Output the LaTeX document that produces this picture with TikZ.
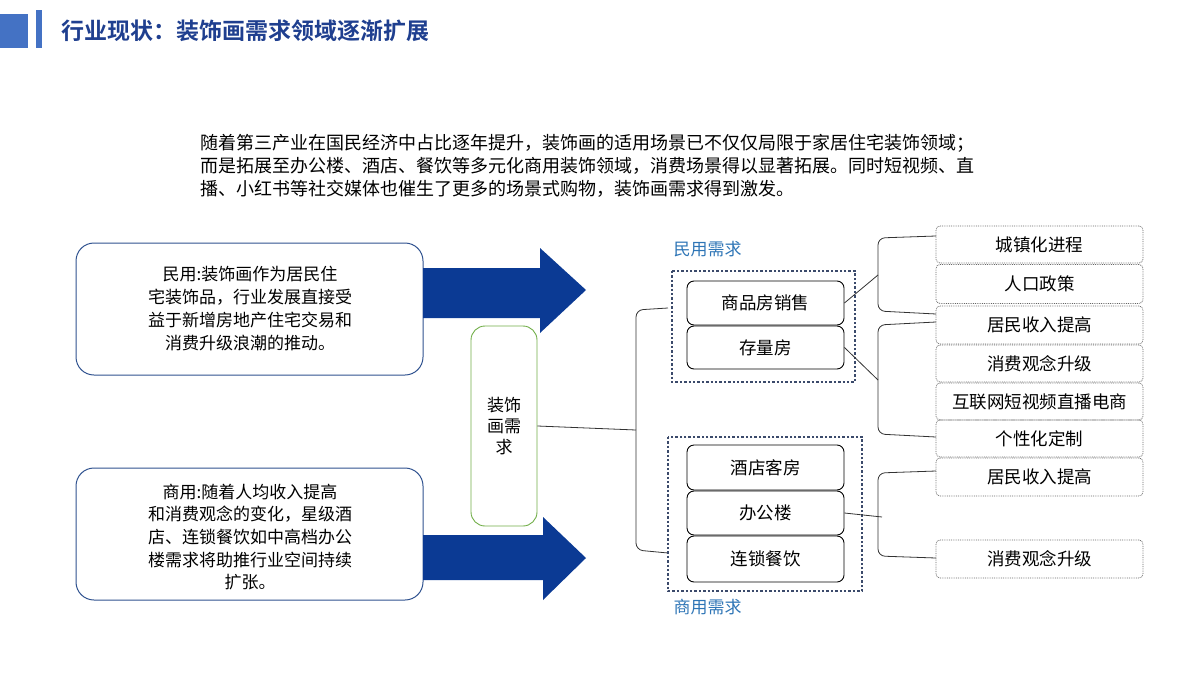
\documentclass[tikz,border=0pt]{standalone}
\usepackage{fontspec}
\setmainfont{Noto Sans CJK SC}[BoldFont={Noto Sans CJK SC Bold}]
\definecolor{hdr}{HTML}{4472C4}
\definecolor{ttl}{HTML}{1F3F8F}
\definecolor{arr}{HTML}{0B3A94}
\definecolor{lbl}{HTML}{2E75B6}
\definecolor{dgb}{HTML}{3B4A6B}
\definecolor{tb}{HTML}{2F528F}
\definecolor{grn}{HTML}{70AD47}
\begin{document}
\begin{tikzpicture}[x=1pt,y=-1pt,
  rbox/.style={draw=black,line width=0.9pt,rounded corners=7pt,minimum width=157pt,inner sep=0pt,font=\fontsize{17.5}{20}\selectfont},
  fbox/.style={draw=black!60,densely dotted,line width=0.8pt,rounded corners=4pt,minimum width=207pt,inner sep=0pt,font=\fontsize{17.5}{20}\selectfont},
  dbox/.style={draw=dgb,dotted,line width=2.4pt},
  tbox/.style={draw=tb,rounded corners=18pt,line width=1pt},
  brk/.style={draw=black!80,line width=0.8pt,rounded corners=7pt},
  lab/.style={text=lbl,font=\fontsize{17}{20}\selectfont},
  barrow/.style={fill=arr}]
\useasboundingbox (0,0) rectangle (1193,677);
\fill[hdr] (0,14) rectangle (28,48);
\fill[hdr] (36,10) rectangle (42,48);
\node[anchor=west,text=ttl,font=\fontsize{23}{26}\selectfont\bfseries] (title) at (58,31) {行业现状：装饰画需求领域逐渐扩展};
\node[anchor=north west,align=left,inner sep=0pt,font=\fontsize{18}{23}\selectfont] (para) at (200,134) {随着第三产业在国民经济中占比逐年提升，装饰画的适用场景已不仅仅局限于家居住宅装饰领域；\\而是拓展至办公楼、酒店、餐饮等多元化商用装饰领域，消费场景得以显著拓展。同时短视频、直\\播、小红书等社交媒体也催生了更多的场景式购物，装饰画需求得到激发。};
% left boxes
\draw[tbox] (76,243) rectangle (423,375);
\node[align=center,font=\fontsize{17}{23}\selectfont] (t1) at (250,309) {民用:装饰画作为居民住\\宅装饰品，行业发展直接受\\益于新增房地产住宅交易和\\消费升级浪潮的推动。};
\draw[tbox] (76,468) rectangle (423,600);
\node[align=center,font=\fontsize{17}{22.7}\selectfont] (t2) at (250,537) {商用:随着人均收入提高\\和消费观念的变化，星级酒\\店、连锁餐饮如中高档办公\\楼需求将助推行业空间持续\\扩张。};
% arrows
\fill[barrow] (423,268) -- (540,268) -- (540,248) -- (586,290) -- (540,333) -- (540,318) -- (423,318) -- cycle;
\fill[barrow] (423,535) -- (543,535) -- (543,517) -- (586,558) -- (543,600) -- (543,580) -- (423,580) -- cycle;
% center
\node[draw=grn,line width=0.9pt,rounded corners=14pt,minimum width=66pt,minimum height=200pt,align=center,font=\fontsize{17}{21}\selectfont] (c) at (504,426) {装饰\\画需\\求};
\coordinate (bl) at (636,430);
\draw[black!80,line width=0.8pt] (c.east) -- (bl);
\draw[brk] (668,308) -- (636,310) -- (636,550) -- (668,553);
% dotted groups
\draw[dbox] (672,271) rectangle (855,382);
\draw[dbox] (668,437) rectangle (862,591);
\node[lab,anchor=west] (l1) at (670,249) {民用需求};
\node[lab,anchor=west] (l2) at (670,607) {商用需求};
\node[rbox,minimum height=44pt] (a1) at (765.5,303) {商品房销售};
\node[rbox,minimum height=43pt] (a2) at (765.5,347.5) {存量房};
\node[rbox,minimum height=45pt] (b1) at (765.5,467.5) {酒店客房};
\node[rbox,minimum height=44pt] (b2) at (765.5,513) {办公楼};
\node[rbox,minimum height=46pt] (b3) at (765.5,559) {连锁餐饮};
% right boxes
\node[fbox,minimum height=37pt] (r1) at (1039.5,244.5) {城镇化进程};
\node[fbox,minimum height=39pt] (r2) at (1039.5,284) {人口政策};
\node[fbox,minimum height=38pt] (r3) at (1039.5,325) {居民收入提高};
\node[fbox,minimum height=37pt] (r4) at (1039.5,363.5) {消费观念升级};
\node[fbox,minimum height=37pt] (r5) at (1039.5,401.5) {互联网短视频直播电商};
\node[fbox,minimum height=37pt] (r6) at (1039.5,438.5) {个性化定制};
\node[fbox,minimum height=38pt] (r7) at (1039.5,477) {居民收入提高};
\node[fbox,minimum height=38pt] (r8) at (1039.5,559) {消费观念升级};
% brackets
\coordinate (k1) at (878,275);
\coordinate (k2) at (878,380);
\coordinate (k3) at (882,517);
\draw[brk] (936,236) -- (878,238) -- (878,311) -- (936,314);
\draw[brk] (936,322) -- (878,325) -- (878,434) -- (936,437);
\draw[brk] (936,471) -- (878,473) -- (878,556) -- (936,558);
\draw[black!80,line width=0.8pt] (a1.east) -- (k1);
\draw[black!80,line width=0.8pt] (a2.east) -- (k2);
\draw[black!80,line width=0.8pt] (b2.east) -- (k3);
\end{tikzpicture}
\end{document}
